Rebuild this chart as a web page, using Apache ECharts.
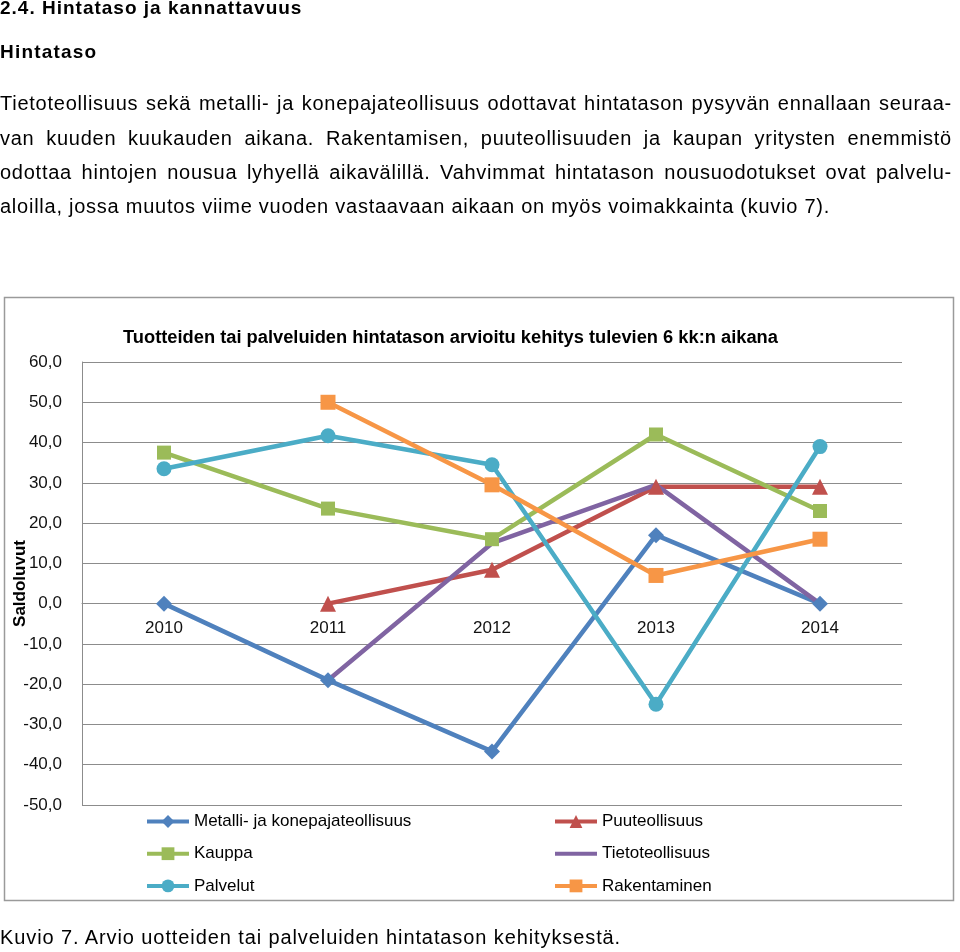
<!DOCTYPE html>
<html><head><meta charset="utf-8">
<script src="https://cdn.jsdelivr.net/npm/echarts@6/dist/echarts.min.js"></script>
<style>
html,body{margin:0;padding:0;background:#fff;}
#chart{position:absolute;left:0;top:0;width:960px;height:952px;}
.t{position:absolute;font-family:"Liberation Sans",Arial,sans-serif;color:#000;white-space:nowrap;z-index:2;}
.p{font-size:20px;letter-spacing:0.75px;}
.j{text-align:justify;text-align-last:justify;white-space:normal;}
</style></head>
<body>
<div id="chart"></div>
<div class="t" style="left:0;top:-3px;font-size:19px;font-weight:bold;letter-spacing:1px;">2.4. Hintataso ja kannattavuus</div>
<div class="t" style="left:0;top:41px;font-size:19px;font-weight:bold;letter-spacing:1.2px;">Hintataso</div>
<div class="t p j" style="left:0;top:92px;width:952px;">Tietoteollisuus sekä metalli- ja konepajateollisuus odottavat hintatason pysyvän ennallaan seuraa-</div>
<div class="t p j" style="left:0;top:127px;width:952px;">van kuuden kuukauden aikana. Rakentamisen, puuteollisuuden ja kaupan yritysten enemmistö</div>
<div class="t p j" style="left:0;top:161px;width:952px;">odottaa hintojen nousua lyhyellä aikavälillä. Vahvimmat hintatason nousuodotukset ovat palvelu-</div>
<div class="t p" style="left:0;top:195px;">aloilla, jossa muutos viime vuoden vastaavaan aikaan on myös voimakkainta (kuvio 7).</div>
<div class="t p" style="left:0;top:926px;letter-spacing:0.9px;">Kuvio 7. Arvio uotteiden tai palveluiden hintatason kehityksestä.</div>
<script>
const categories = ['2010','2011','2012','2013','2014'];
const metalli = [0, -19, -36.7, 17, 0];
const puu = [null, 0, 8.4, 29, 29];
const kauppa = [37.5, 23.6, 16, 42, 23];
const tieto = [null, -19, 15, 29.5, 0];
const palvelut = [33.5, 41.7, 34.5, -25, 39];
const rakentaminen = [null, 50, 29.5, 7, 16];
const yMin = -50, yMax = 60, yStep = 10;
const seriesNames = ['Metalli- ja konepajateollisuus','Puuteollisuus','Kauppa','Tietoteollisuus','Palvelut','Rakentaminen'];

const chart = echarts.init(document.getElementById('chart'));
const font = '"Liberation Sans", Arial, sans-serif';
const gridTop = 362, gridBottom = 147, chartH = 952;
const plotH = chartH - gridTop - gridBottom;
const zeroOffset = -plotH * (0 - yMin) / (yMax - yMin);
function mk(name, data, color, symbol, size){
  return {name, type:'line', data, connectNulls:false, symbol, symbolSize:size,
    lineStyle:{color, width:4.5}, itemStyle:{color}, showSymbol: symbol!=='none', z:3};
}
const legendCommon = {orient:'vertical', top:808, itemWidth:42, itemHeight:16, itemGap:15.2,
  lineStyle:{width:4}, textStyle:{fontFamily:font, fontSize:17, color:'#000'}};
chart.setOption({
  animation:false,
  backgroundColor:'transparent',
  title:{text:'Tuotteiden tai palveluiden hintatason arvioitu kehitys tulevien 6 kk:n aikana',
    left:118, top:324, textStyle:{fontFamily:font, fontSize:18.3, fontWeight:'bold', color:'#000'}},
  graphic:[{type:'rect', shape:{x:4.5,y:297.5,width:949,height:603}, style:{fill:'none', stroke:'#9a9a9a', lineWidth:1.5}, z:0}],
  grid:{left:82, right:58, top:gridTop, bottom:gridBottom, outerBoundsMode:'none', containLabel:false},
  xAxis:{type:'category', data:categories, boundaryGap:true, offset:zeroOffset,
    axisLine:{show:true, onZero:false, lineStyle:{color:'#8c8c8c'}},
    axisTick:{show:false},
    axisLabel:{margin:16, fontFamily:font, fontSize:17, color:'#111'}},
  yAxis:{type:'value', min:yMin, max:yMax, interval:yStep,
    name:'Saldoluvut', nameLocation:'middle', nameGap:53, nameRotate:90, nameMoveOverlap:false,
    nameTextStyle:{fontFamily:font, fontSize:17, fontWeight:'bold', color:'#000'},
    axisLine:{show:true, lineStyle:{color:'#8c8c8c'}},
    axisTick:{show:false},
    splitLine:{lineStyle:{color:'#8c8c8c', width:1}},
    axisLabel:{margin:20, fontFamily:font, fontSize:17, color:'#111',
      formatter:v=>v.toFixed(1).replace('.',',')}},
  legend:[
    Object.assign({data:[seriesNames[0],seriesNames[2],seriesNames[4]], left:140}, legendCommon),
    Object.assign({data:[seriesNames[1],{name:seriesNames[3], itemStyle:{opacity:0}},seriesNames[5]], left:548}, legendCommon)
  ],
  series:[
    mk(seriesNames[0], metalli, '#4F81BD', 'diamond', 16),
    mk(seriesNames[1], puu, '#C0504D', 'triangle', 16),
    mk(seriesNames[2], kauppa, '#9BBB59', 'rect', 14),
    mk(seriesNames[3], tieto, '#8064A2', 'none', 0),
    mk(seriesNames[4], palvelut, '#4BACC6', 'circle', 15),
    mk(seriesNames[5], rakentaminen, '#F79646', 'rect', 15)
  ]
});
</script>
</body></html>
